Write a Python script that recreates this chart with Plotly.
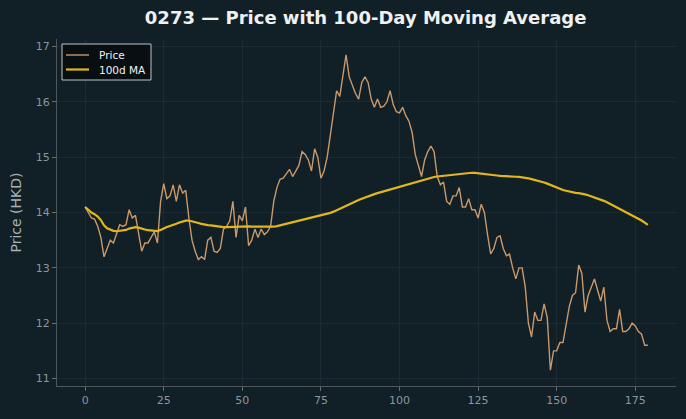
import pandas as pd
import plotly.graph_objects as go

days = list(range(180))
price = [
    14.10, 14.00, 13.90, 13.88, 13.75, 13.55, 13.20, 13.35, 13.50, 13.45,
    13.60, 13.78, 13.75, 13.78, 14.05, 13.90, 13.95, 13.60, 13.30, 13.45,
    13.45, 13.55, 13.65, 13.45, 14.20, 14.52, 14.25, 14.30, 14.50, 14.20,
    14.50, 14.35, 14.40, 13.90, 13.50, 13.30, 13.15, 13.20, 13.15, 13.50,
    13.55, 13.30, 13.28, 13.35, 13.70, 13.75, 13.85, 14.20, 13.55, 13.95,
    13.85, 14.10, 13.40, 13.50, 13.70, 13.55, 13.70, 13.60, 13.65, 13.75,
    14.20, 14.45, 14.60, 14.62, 14.70, 14.78, 14.65, 14.75, 14.85, 15.10,
    15.05, 14.95, 14.75, 15.15, 15.00, 14.62, 14.75, 15.00, 15.40, 15.75,
    16.20, 16.10, 16.45, 16.85, 16.45, 16.30, 16.15, 16.05, 16.35, 16.45,
    16.35, 16.05, 15.90, 16.05, 15.90, 15.92, 16.00, 16.20, 15.95, 15.82,
    15.80, 15.90, 15.75, 15.65, 15.45, 15.05, 14.85, 14.65, 14.95, 15.10,
    15.20, 15.10, 14.65, 14.50, 14.55, 14.20, 14.15, 14.30, 14.30, 14.45,
    14.10, 14.10, 14.25, 14.05, 14.05, 13.90, 14.15, 14.00, 13.60, 13.25,
    13.35, 13.55, 13.58, 13.35, 13.22, 13.25, 13.00, 12.80, 13.00, 13.00,
    12.65, 12.00, 11.75, 12.20, 12.05, 12.05, 12.35, 12.10, 11.15, 11.50,
    11.50, 11.65, 11.65, 11.95, 12.30, 12.50, 12.55, 13.05, 12.90, 12.20,
    12.50, 12.65, 12.80, 12.60, 12.40, 12.65, 12.05, 11.85, 11.90, 11.90,
    12.25, 11.85, 11.85, 11.90, 12.00, 11.95, 11.85, 11.80, 11.60, 11.60,
]
ma_window = 100
ma100 = pd.Series(price).rolling(ma_window, min_periods=1).mean().tolist()

x_ticks = [0, 25, 50, 75, 100, 125, 150, 175]
y_ticks = [11, 12, 13, 14, 15, 16, 17]
series_names = ["Price", "100d MA"]
series_colors = ["#c9996b", "#e2b71c"]
series_widths = [1.4, 2.2]

BG = "#111f27"
GRID = "#1c2b33"
TICK = "#8c969b"
FONT = "DejaVu Sans"
W, H = 686, 419
ML, MR, MT, MB = 57, 10, 39, 33
PW, PH = W - ML - MR, H - MT - MB

def px(xp):
    return (xp - ML) / PW

def py(yp):
    return 1 - (yp - MT) / PH

fig = go.Figure()
for name, ys, col, wd in zip(series_names, [price, ma100], series_colors, series_widths):
    fig.add_trace(go.Scatter(x=days, y=ys, mode="lines", name=name,
                             line=dict(color=col, width=wd), showlegend=False))

# custom legend (matplotlib-like compact box)
shapes = [dict(type="rect", xref="paper", yref="paper",
               x0=px(62), x1=px(151), y0=py(80), y1=py(44),
               fillcolor="#080f13", line=dict(color="#c0c4c6", width=1), layer="above")]
annotations = []
for k, (name, col, wd) in enumerate(zip(series_names, series_colors, series_widths)):
    yy = 55 + 14.5 * k
    shapes.append(dict(type="line", xref="paper", yref="paper",
                       x0=px(66), x1=px(89), y0=py(yy), y1=py(yy),
                       line=dict(color=col, width=wd), layer="above"))
    annotations.append(dict(xref="paper", yref="paper", x=px(97), y=py(yy),
                            xanchor="left", yanchor="middle", text=name, showarrow=False,
                            font=dict(family=FONT, size=10.5, color="#f0f0f0")))

fig.update_layout(
    width=W, height=H,
    paper_bgcolor=BG, plot_bgcolor=BG,
    margin=dict(l=ML, r=MR, t=MT, b=MB),
    font=dict(family=FONT, color=TICK, size=11),
    title=dict(text="<b>0273 — Price with 100-Day Moving Average</b>",
               x=0.533, xanchor="center", y=0.957, yanchor="middle",
               font=dict(family=FONT, size=18, color="#f0f0f0")),
    showlegend=False,
    shapes=shapes, annotations=annotations,
)
fig.update_xaxes(range=[-8.95, 187.95], tickvals=x_ticks, ticks="outside",
                 ticklen=4, tickcolor="#666e72", showgrid=True, gridcolor=GRID,
                 gridwidth=1, zeroline=False, showline=True, linecolor="#4d575c",
                 linewidth=1, tickfont=dict(size=11, color=TICK))
fig.update_yaxes(range=[10.865, 17.135], tickvals=y_ticks, ticks="outside",
                 ticklen=4, tickcolor="#666e72", showgrid=True, gridcolor=GRID,
                 gridwidth=1, zeroline=False, showline=True, linecolor="#4d575c",
                 linewidth=1, tickfont=dict(size=11, color=TICK),
                 title=dict(text="Price (HKD)", font=dict(size=14, color="#a9b1b5"),
                            standoff=10))

fig.write_html("out.html")
